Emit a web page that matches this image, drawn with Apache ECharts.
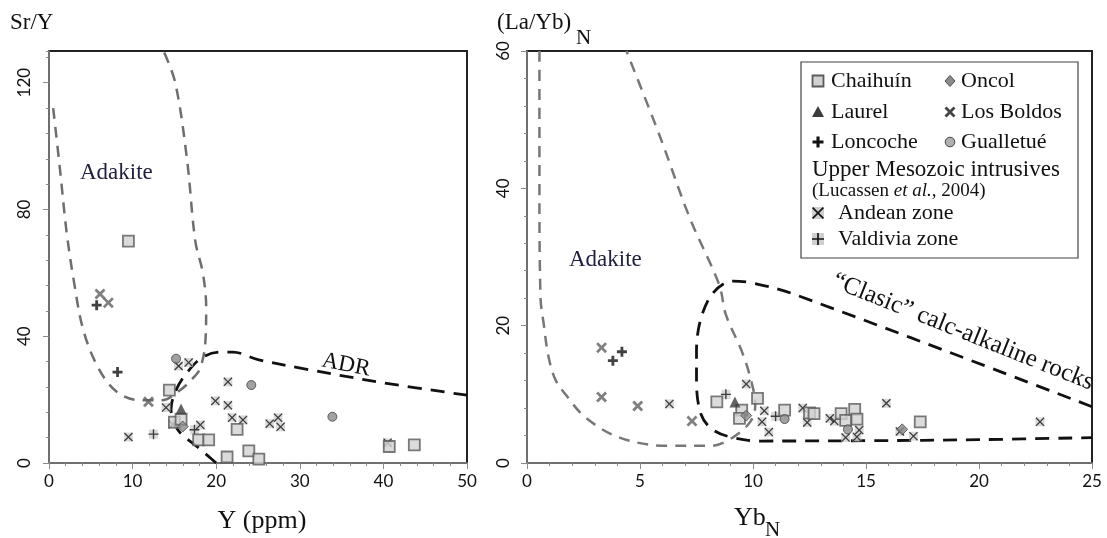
<!DOCTYPE html>
<html><head><meta charset="utf-8">
<script src="https://cdn.jsdelivr.net/npm/echarts@6/dist/echarts.min.js"></script>
<style>html,body{margin:0;padding:0;background:#fff}#c{width:1107px;height:538px}</style>
</head><body><div id="c"></div>
<script>
// ---------- Left panel: Sr/Y vs Y (ppm) ----------
const L_chaihuin = [[9.5,70],[14.4,23],[15.0,12.9],[15.8,13.8],[17.9,7.3],[19.1,7.3],[21.3,1.9],[22.5,10.6],[23.9,3.8],[25.1,1.2],[40.7,5.2],[43.7,5.7]];
const L_laurel = [[15.8,17]];
const L_loncoche = [[5.7,49.8],[8.2,28.7]];
const L_oncol = [[16.0,11.5]];
const L_losBoldos = [[6.1,53.3],[7.1,50.6],[11.9,19.3]];
const L_gualletue = [[15.2,32.9],[24.2,24.6],[33.9,14.6]];
const L_andean = [[15.5,30.6],[16.7,31.7],[14.0,17.5],[14.8,12.2],[9.5,8.2],[18.1,12.0],[21.4,25.6],[19.9,19.6],[21.4,18.2],[21.9,14.3],[23.2,13.6],[26.4,12.4],[27.4,14.3],[27.7,11.4],[40.5,6.4]];
const L_valdivia = [[12.5,9.1],[17.4,10.5]];
const L_adakiteField = [[0.5,112],[1.3,93],[2.1,73],[3.0,57],[4.1,42],[5.9,30],[8.1,22.5],[10.9,19.8],[13.5,19.8],[15.7,23],[17.3,27],[18.1,30],[18.7,38],[18.8,49],[18.4,60],[17.5,70],[16.5,96],[15.1,120],[13.7,130]];
const L_adrField = [[20,0],[17.8,5],[15.4,10.5],[14.6,17],[15.2,23],[16.5,28.5],[18.4,33.4],[20.5,35],[22,35],[25,32.6],[31,29.5],[40,25.3],[50,21.4]];
const L_xTicks = {min:0, max:50, step:10};
const L_yTicks = {min:0, max:130, step:40, minor:8};

// ---------- Right panel: (La/Yb)N vs YbN ----------
const R_chaihuin = [[8.4,8.9],[9.5,7.7],[9.4,6.5],[10.2,9.4],[11.4,7.7],[12.5,7.3],[12.7,7.2],[13.9,7.2],[14.1,6.2],[14.5,7.8],[14.6,6.4],[17.4,6.0]];
const R_laurel = [[9.2,8.9]];
const R_loncoche = [[3.8,14.9],[4.2,16.2]];
const R_oncol = [[9.7,6.9],[16.6,4.9]];
const R_losBoldos = [[3.3,16.8],[3.3,9.6],[4.9,8.3],[7.3,6.1]];
const R_gualletue = [[11.4,6.4],[14.2,4.9]];
const R_andean = [[6.3,8.6],[9.7,11.5],[10.5,7.6],[10.4,6.0],[10.7,4.5],[12.2,8.0],[12.4,5.9],[13.4,6.5],[13.6,6.1],[14.1,3.7],[14.7,4.8],[14.6,3.8],[15.9,8.7],[16.5,4.6],[17.1,3.9],[22.7,6.0]];
const R_valdivia = [[8.8,10.0],[11.0,6.8]];
const R_adakiteField = [[0.55,60],[0.55,40],[0.6,24],[0.75,20],[0.95,15.5],[1.25,12.2],[1.7,10],[2.6,6.6],[4.1,3.7],[6.2,2.5],[8.1,2.5],[9.1,3.7],[9.9,6.1],[10.1,8.5],[9.9,12.2],[9.5,16.3],[8.8,21.6],[8.5,26],[7.2,35.7],[5.9,47.4],[4.4,60]];
const R_calcAlkField = [[25,8.2],[11.8,24.6],[10.0,26.2],[9.1,26.5],[8.0,23.6],[7.5,16.3],[7.5,11.9],[7.7,7.1],[8.2,4.9],[9.1,3.7],[10.3,3.2],[15,3.25],[20,3.4],[25,3.7]];
const R_xTicks = {min:0, max:25, step:5};
const R_yTicks = {min:0, max:60, step:20};

const legendNames = ['Chaihuín','Laurel','Loncoche','Oncol','Los Boldos','Gualletué'];
const legendNote1 = 'Upper Mesozoic intrusives';
const legendZones = ['Andean zone','Valdivia zone'];

// ---------- styles ----------
const SERIF = '"Liberation Serif","DejaVu Serif",serif';
const SANS = 'Lato,"Open Sans",sans-serif';
const P_XB = [[1.8,0],[5,3.2],[8.2,0],[10,1.8],[6.8,5],[10,8.2],[8.2,10],[5,6.8],[1.8,10],[0,8.2],[3.2,5],[0,1.8]];
const P_XT = [[1,0],[5,4],[9,0],[10,1],[6,5],[10,9],[9,10],[5,6],[1,10],[0,9],[4,5],[0,1]];
const P_PB = [[3.6,0],[6.4,0],[6.4,3.6],[10,3.6],[10,6.4],[6.4,6.4],[6.4,10],[3.6,10],[3.6,6.4],[0,6.4],[0,3.6],[3.6,3.6]];
const P_PT = [[4.3,0],[5.7,0],[5.7,4.3],[10,4.3],[10,5.7],[5.7,5.7],[5.7,10],[4.3,10],[4.3,5.7],[0,5.7],[0,4.3],[4.3,4.3]];
function toPath(pts) { return 'path://M' + pts.map(p => p[0] + ',' + p[1]).join(' L') + ' Z'; }
function toPoly(pts, cx, cy, size) { return pts.map(p => [cx - size/2 + p[0]*size/10, cy - size/2 + p[1]*size/10]); }

const ST = {
  chaihuin: {symbol:'rect', symbolSize:11, itemStyle:{color:'#d2d2d2', borderColor:'#5a5a5a', borderWidth:1.8}},
  laurel: {symbol:'triangle', symbolSize:[11,11], itemStyle:{color:'#3c3c3c'}},
  loncoche: {symbol:toPath(P_PB), symbolSize:10, itemStyle:{color:'#111'}},
  oncol: {symbol:'diamond', symbolSize:[11,11], itemStyle:{color:'#8a8a8a', borderColor:'#4a4a4a', borderWidth:1}},
  losBoldos: {symbol:toPath(P_XB), symbolSize:11, itemStyle:{color:'#606060'}},
  gualletue: {symbol:'circle', symbolSize:9, itemStyle:{color:'#8a8a8a', borderColor:'#444', borderWidth:1}},
  andean: {symbol:toPath(P_XT), symbolSize:9, itemStyle:{color:'#151515'}},
  valdivia: {symbol:toPath(P_PT), symbolSize:10, itemStyle:{color:'#151515'}},
  bg: {symbol:'rect', symbolSize:9, itemStyle:{color:'#cfcfcf'}}
};

function sc(name, data, st, xi, yi, z) {
  return Object.assign({type:'scatter', name, data, xAxisIndex:xi, yAxisIndex:yi, z:z||4, silent:true}, JSON.parse(JSON.stringify(st)));
}
function ln(data, color, width, dash, xi, yi) {
  return {type:'line', data, xAxisIndex:xi, yAxisIndex:yi, symbol:'none', smooth:0.35, z:2, silent:true,
    lineStyle:{color, width, type:dash}};
}
function panelSeries(d, xi, yi) {
  return [
    sc('bgA', d.andean, ST.bg, xi, yi, 3),
    sc('bgV', d.valdivia, ST.bg, xi, yi, 3),
    sc('Andean zone', d.andean, ST.andean, xi, yi, 4),
    sc('Valdivia zone', d.valdivia, ST.valdivia, xi, yi, 4),
    sc('Chaihuín', d.chaihuin, ST.chaihuin, xi, yi, 5),
    sc('Laurel', d.laurel, ST.laurel, xi, yi, 5),
    sc('Loncoche', d.loncoche, ST.loncoche, xi, yi, 5),
    sc('Oncol', d.oncol, ST.oncol, xi, yi, 6),
    sc('Los Boldos', d.losBoldos, ST.losBoldos, xi, yi, 5),
    sc('Gualletué', d.gualletue, ST.gualletue, xi, yi, 5)
  ];
}

const series = [].concat(
  [ln(L_adakiteField, '#6e6e6e', 2.5, [11,8], 0, 0), ln(L_adrField, '#111', 2.8, [14,9], 0, 0)],
  panelSeries({andean:L_andean, valdivia:L_valdivia, chaihuin:L_chaihuin, laurel:L_laurel, loncoche:L_loncoche, oncol:L_oncol, losBoldos:L_losBoldos, gualletue:L_gualletue}, 0, 0),
  [ln(R_adakiteField, '#777', 2.5, [11,8], 1, 2), ln(R_calcAlkField, '#111', 2.8, [14,9], 1, 2)],
  panelSeries({andean:R_andean, valdivia:R_valdivia, chaihuin:R_chaihuin, laurel:R_laurel, loncoche:R_loncoche, oncol:R_oncol, losBoldos:R_losBoldos, gualletue:R_gualletue}, 1, 2)
);

const LABEL = {fontFamily:SANS, fontSize:17, color:'#111'};
const axisCommon = {
  type:'value', splitLine:{show:false},
  axisLine:{show:true, onZero:false, lineStyle:{color:'#8a8a8a', width:1.5}},
  axisTick:{show:true, length:6, lineStyle:{color:'#8a8a8a', width:1}},
  minorTick:{show:true, splitNumber:5, length:3, lineStyle:{color:'#8a8a8a', width:1}},
  axisLabel:Object.assign({margin:10}, LABEL)
};
function ax(extra) { return Object.assign(JSON.parse(JSON.stringify(axisCommon)), extra); }

// ---------- legend graphics ----------
const G = [];
function txt(x, y, text, font, extra) {
  G.push({type:'text', z:50, style:Object.assign({x, y, text, font, fill:'#111', textAlign:'left', textVerticalAlign:'middle'}, extra||{})});
}
function poly(pts, cx, cy, size, fill, z) {
  G.push({type:'polygon', z:z||50, shape:{points:toPoly(pts, cx, cy, size)}, style:{fill}});
}
function icon(kind, cx, cy) {
  if (kind === 'square') G.push({type:'rect', z:50, shape:{x:cx-5.5, y:cy-5.5, width:11, height:11}, style:{fill:'#d2d2d2', stroke:'#5a5a5a', lineWidth:1.8}});
  if (kind === 'tri') G.push({type:'polygon', z:50, shape:{points:[[cx,cy-6],[cx+6,cy+5],[cx-6,cy+5]]}, style:{fill:'#3c3c3c'}});
  if (kind === 'plusB') poly(P_PB, cx, cy, 11, '#111');
  if (kind === 'diamond') G.push({type:'polygon', z:50, shape:{points:[[cx,cy-5.5],[cx+5,cy],[cx,cy+5.5],[cx-5,cy]]}, style:{fill:'#8a8a8a', stroke:'#4a4a4a', lineWidth:1}});
  if (kind === 'xB') poly(P_XB, cx, cy, 11, '#444');
  if (kind === 'circle') G.push({type:'circle', z:50, shape:{cx, cy, r:4.8}, style:{fill:'#b0b0b0', stroke:'#444', lineWidth:1}});
  if (kind === 'xT' || kind === 'plusT') {
    G.push({type:'rect', z:50, shape:{x:cx-6, y:cy-6, width:12, height:12}, style:{fill:'#cfcfcf'}});
    poly(kind === 'xT' ? P_XT : P_PT, cx, cy, 12, '#151515', 51);
  }
}
G.push({type:'rect', z:49, shape:{x:801, y:62, width:277, height:196}, style:{fill:'#fff', stroke:'#444', lineWidth:1.2}});
const LF = '22px ' + SERIF;
const rowsY = [81, 112, 142];
const kinds1 = ['square','tri','plusB'], kinds2 = ['diamond','xB','circle'];
for (let i = 0; i < 3; i++) {
  icon(kinds1[i], 818, rowsY[i]); txt(831, rowsY[i], legendNames[i], LF);
  icon(kinds2[i], 950, rowsY[i]); txt(961, rowsY[i], legendNames[i+3], LF);
}
txt(812, 170, legendNote1, '23px ' + SERIF);
G.push({type:'text', z:50, style:{x:812, y:191, text:'{a|(Lucassen }{b|et al.}{a|, 2004)}', textVerticalAlign:'middle',
  rich:{a:{font:'19px '+SERIF, fill:'#111'}, b:{font:'italic 19px '+SERIF, fill:'#111'}}}});
icon('xT', 818, 213); txt(838, 213, legendZones[0], LF);
icon('plusT', 818, 239); txt(838, 239, legendZones[1], LF);

// axis titles & annotations
txt(10, 23, 'Sr/Y', '23px ' + SERIF);
txt(497, 23, '(La/Yb)', '23px ' + SERIF);
txt(576, 38, 'N', '21px ' + SERIF);
txt(262, 521, 'Y (ppm)', '26px ' + SERIF, {textAlign:'center'});
txt(734, 518, 'Yb', '26px ' + SERIF);
txt(765, 530, 'N', '21px ' + SERIF);
const ANN = '#1f1f3d';
txt(80, 173, 'Adakite', '23px ' + SERIF, {fill:ANN});
txt(569, 260, 'Adakite', '23px ' + SERIF, {fill:ANN});
G.push({type:'text', z:50, x:346, y:365, rotation:-0.19, style:{x:0, y:0, text:'ADR', font:'23px '+SERIF, fill:'#111', textAlign:'center', textVerticalAlign:'middle'}});
G.push({type:'text', z:50, x:963, y:332, rotation:-0.38, style:{x:0, y:0, text:'\u201cClasic\u201d calc-alkaline rocks', font:'25px '+SERIF, fill:'#111', textAlign:'center', textVerticalAlign:'middle'}});

const option = {
  animation:false,
  backgroundColor:'#fff',
  grid:[
    {left:49, right:640, top:51, bottom:75, show:true, borderColor:'#222', borderWidth:2, backgroundColor:'transparent'},
    {left:527, right:15, top:51, bottom:75, show:true, borderColor:'#222', borderWidth:2, backgroundColor:'transparent'}
  ],
  xAxis:[
    ax({gridIndex:0, min:L_xTicks.min, max:L_xTicks.max, interval:L_xTicks.step}),
    ax({gridIndex:1, min:R_xTicks.min, max:R_xTicks.max, interval:R_xTicks.step})
  ],
  yAxis:[
    ax({gridIndex:0, position:'left', min:L_yTicks.min, max:L_yTicks.max, interval:L_yTicks.step, minorTick:{show:false},
        axisLabel:Object.assign({margin:16, rotate:90, showMaxLabel:false}, LABEL)}),
    ax({gridIndex:0, position:'left', min:L_yTicks.min, max:L_yTicks.max, interval:L_yTicks.minor, minorTick:{show:false},
        axisLine:{show:false}, axisLabel:{show:false}, axisTick:{show:true, length:3, lineStyle:{color:'#8a8a8a'}}}),
    ax({gridIndex:1, position:'left', min:R_yTicks.min, max:R_yTicks.max, interval:R_yTicks.step,
        axisLabel:Object.assign({margin:15, rotate:90}, LABEL)})
  ],
  series,
  graphic:{elements:G}
};
const chart = echarts.init(document.getElementById('c'), null, {renderer:'canvas'});
chart.setOption(option);
</script>
</body></html>
